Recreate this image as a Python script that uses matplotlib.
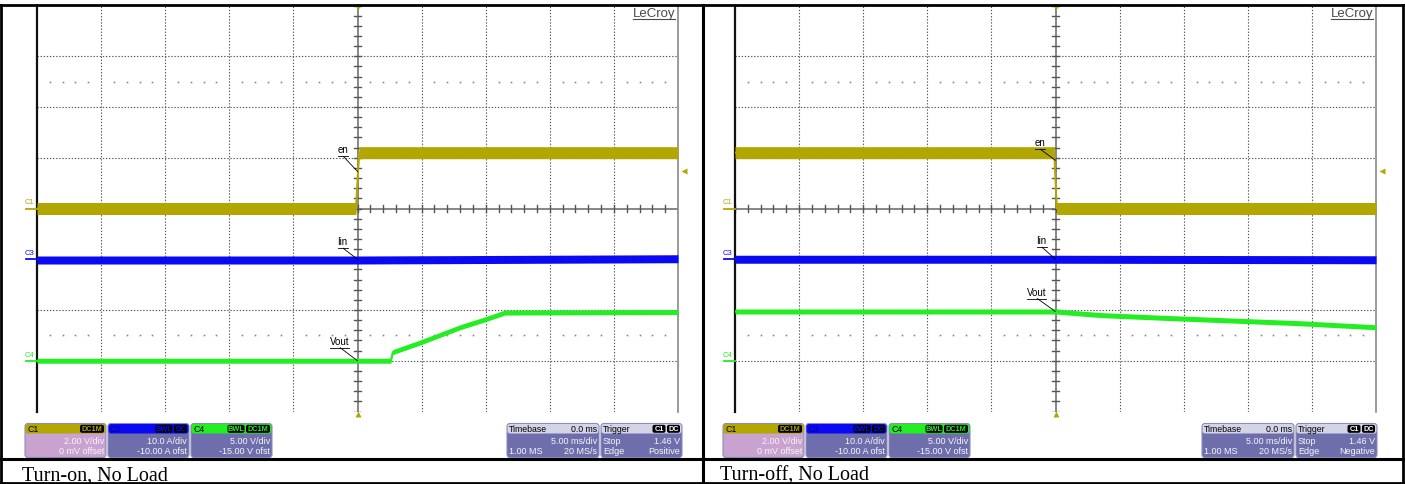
import matplotlib
matplotlib.use("Agg")
import matplotlib.pyplot as plt
from matplotlib.patches import FancyBboxPatch, Rectangle

# ---------------- data ----------------
captions = ["Turn-on, No Load", "Turn-off, No Load"]
trigger_slope = ["Positive", "Negative"]
ch_names = ["C1", "C3", "C4"]
ch_labels = ["en", "Iin", "Vout"]
ch_per_div = [2.0, 10.0, 5.0]
ch_offset = [0.0, -10.0, -15.0]
ch_scale_txt = ["2.00 V/div", "10.0 A/div", "5.00 V/div"]
ch_offset_txt = ["0 mV offset", "-10.00 A ofst", "-15.00 V ofst"]
ch_badges = [["DC1M"], ["BWL", "DC"], ["BWL", "DC1M"]]
timebase_txt = ["Timebase", "0.0 ms", "5.00 ms/div", "1.00 MS", "20 MS/s"]
trigger_txt = ["Trigger", "Stop", "1.46 V", "Edge"]
trigger_badges = ["C1", "DC"]
trigger_level = 1.46      # V on C1
ms_per_div = 5.0

# turn-on traces (time in ms, values in channel units)
on_en_t = [-25, -0.12, 0.12, 25]
on_en_v = [0.0, 0.0, 2.2, 2.2]
on_iin_t = [-25, 0, 25]
on_iin_v = [-0.15, -0.15, 0.1]
on_vout_t = [-25, 2.6, 2.75, 5.0, 8.0, 10.0, 11.5, 25]
on_vout_v = [0.0, 0.0, 0.85, 1.85, 3.3, 4.1, 4.75, 4.8]
# turn-off traces
off_en_t = [-25, -0.1, 0.1, 25]
off_en_v = [2.2, 2.2, 0.0, 0.0]
off_iin_t = [-25, 0, 25]
off_iin_v = [0.0, 0.0, -0.1]
off_vout_t = [-25, 0, 3.5, 9, 15, 19, 25]
off_vout_v = [4.85, 4.85, 4.5, 4.2, 3.9, 3.7, 3.3]

# leader-line targets of the trace labels (value at t = 0)
label_targets = [[1.46, 0.0, 0.0], [1.9, 0.0, 4.85]]

# ---------------- style ----------------
W, H = 1405, 484
ch_colors = ["#B2A600", "#0A0AF2", "#22EE22"]
band_px = [12.0, 8.0, 5.0]
label_off = [[(-20, -16), (-20, -12), (-28, -14)],
             [(-21, -12), (-19, -13), (-29, -14)]]
SANS = ["Liberation Sans", "DejaVu Sans"]
SERIF = ["Liberation Serif", "DejaVu Serif"]

fig = plt.figure(figsize=(W / 100, H / 100), dpi=100)
bg = fig.add_axes([0, 0, 1, 1])
bg.set_xlim(0, W)
bg.set_ylim(H, 0)
bg.axis("off")
bg.set_zorder(5)
bg.patch.set_visible(False)


def px_rect(x0, y0, x1, y1):
    return [x0 / W, 1 - y1 / H, (x1 - x0) / W, (y1 - y0) / H]


def to_bg(ax, x, y):
    d = ax.transData.transform((x, y))
    return bg.transData.inverted().transform(d)


def rbox(x, y, w, h, fc, ec="none", r=3, lw=0.8, z=2):
    bg.add_patch(FancyBboxPatch((x, y), w, h,
                                boxstyle=f"round,pad=0,rounding_size={r}",
                                fc=fc, ec=ec, lw=lw, zorder=z))


def badge(xr, y, txt, color, w):
    rbox(xr - w, y, w, 8, "black", r=2, z=4)
    bg.text(xr - w / 2, y + 4.3, txt, color=color, fontsize=5.3,
            family=SANS, ha="center", va="center", fontweight="bold", zorder=5)
    return xr - w - 1.5


badge_w = {"DC1M": 24, "BWL": 17, "DC": 13, "C1": 13}

traces = [
    [(on_en_t, on_en_v), (on_iin_t, on_iin_v), (on_vout_t, on_vout_v)],
    [(off_en_t, off_en_v), (off_iin_t, off_iin_v), (off_vout_t, off_vout_v)],
]

renderer = fig.canvas.get_renderer()

for p in range(2):
    xo = 0 if p == 0 else 698
    sx0, sx1, sy0, sy1 = 37 + xo, 678 + xo, 5.5, 411.5
    ax = fig.add_axes(px_rect(sx0, sy0, sx1, sy1))
    ax.set_xlim(-5 * ms_per_div, 5 * ms_per_div)
    ax.set_ylim(-4, 4)
    ax.set_xticks([])
    ax.set_yticks([])
    for s in ["top", "bottom"]:
        ax.spines[s].set_visible(False)
    ax.spines["left"].set_color("#111111")
    ax.spines["left"].set_linewidth(1.6)
    ax.spines["right"].set_color("#8a8a8a")
    ax.spines["right"].set_linewidth(1.2)

    # grid
    for k in range(-4, 5):
        if k != 0:
            ax.axvline(k * ms_per_div, color="#555555", lw=0.8, ls=(0, (1.2, 1.6)), zorder=1)
    for k in range(-3, 4):
        if k != 0:
            ax.axhline(k, color="#555555", lw=0.8, ls=(0, (1.2, 1.6)), zorder=1)
    dots_x = [i * 0.2 * ms_per_div for i in range(-25, 26) if i % 5 != 0]
    for yy in (2.5, -2.5):
        ax.plot(dots_x, [yy] * len(dots_x), ls="none", marker="s", ms=1.2,
                mec="none", mfc="#888888", zorder=1)
    ax.axvline(0, color="#666666", lw=1.1, zorder=1)
    ax.axhline(0, color="#666666", lw=1.1, zorder=1)
    ticks = [i * 0.2 for i in range(-25, 26)]
    for t in ticks:
        ax.plot([t * ms_per_div] * 2, [-0.075, 0.075], color="#555555", lw=1.0, zorder=1)
    for t in [i * 0.2 for i in range(-20, 21)]:
        ax.plot([-0.3, 0.3], [t, t], color="#555555", lw=1.0, zorder=1)

    # channels on their own scales
    for c in range(3):
        cax = fig.add_axes(px_rect(sx0, sy0, sx1, sy1), sharex=ax)
        cax.set_ylim(-4 * ch_per_div[c] - ch_offset[c], 4 * ch_per_div[c] - ch_offset[c])
        cax.axis("off")
        cax.patch.set_visible(False)
        t, v = traces[p][c]
        hw = band_px[c] / 2 / 50.75 * ch_per_div[c]
        cax.fill_between(t, [a - hw for a in v], [a + hw for a in v],
                         color=ch_colors[c], lw=0, zorder=3)
        cax.plot(t, v, color=ch_colors[c], lw=1.4, zorder=3)

        # channel zero marker at left
        zx, zy = to_bg(cax, -25, 0.0)
        bg.plot([zx - 11, zx], [zy, zy], color=ch_colors[c], lw=1.3, zorder=4)
        bg.text(zx - 12, zy - 2, ch_names[c], color=ch_colors[c], fontsize=5.5,
                family=SANS, ha="left", va="bottom", zorder=4)

        # trace label with leader
        px_, py_ = to_bg(cax, 0, label_targets[p][c])
        dx, dy = label_off[p][c]
        tx, ty = px_ + dx, py_ + dy
        txt = bg.text(tx, ty, ch_labels[c], fontsize=7, family=SANS, color="black",
                      ha="left", va="bottom", zorder=6)
        bb = txt.get_window_extent(renderer)
        w = bb.width
        bg.plot([tx, tx + w], [ty + 1, ty + 1], color="black", lw=0.6, zorder=6)
        bg.plot([tx + w * 0.55, px_], [ty + 1, py_], color="black", lw=0.6, zorder=6)

        if c == 0:
            # trigger level marker
            mx, my = to_bg(cax, 25, trigger_level)
            bg.plot(mx + 6, my, marker="<", ms=5, color=ch_colors[0], mec="none", zorder=6)

    # trigger position markers
    tx0, _ = to_bg(ax, 0, 0)
    bg.plot(tx0, 7, marker="v", ms=5, color=ch_colors[0], mec="none", zorder=6)
    bg.plot(tx0, 414, marker="^", ms=5, color=ch_colors[0], mec="none", zorder=6)

    # LeCroy logo
    lt = bg.text(sx1 - 3, 16.5, "LeCroy", fontsize=9.5, family=SANS, color="#4a4a4a",
                 ha="right", va="baseline", zorder=6)
    lw_ = lt.get_window_extent(renderer).width
    bg.plot([sx1 - 3 - lw_, sx1 - 3], [18.5, 18.5], color="#4a4a4a", lw=0.8, zorder=6)

    # channel info boxes
    bxs = [25, 108, 191]
    for c in range(3):
        bx = bxs[c] + xo
        body = "#C9A2CF" if c == 0 else "#6E6EAC"
        rbox(bx, 423.5, 81, 34, body, ec="#8c8cbc", r=3)
        rbox(bx + 0.5, 424, 80, 9.5, ch_colors[c], r=2.5, z=3)
        bg.text(bx + 2, 429, ch_names[c], fontsize=6.3, family=SANS,
                color="#0000A0" if c == 1 else "black", ha="left", va="center", zorder=5)
        xr = bx + 79
        for b in reversed(ch_badges[c]):
            xr = badge(xr, 424.8, b, ch_colors[c], badge_w[b])
        bg.text(bx + 79, 441, ch_scale_txt[c], fontsize=6.5, family=SANS,
                color="#f6f6f6", ha="right", va="center", zorder=5)
        bg.text(bx + 79, 452, ch_offset_txt[c], fontsize=6.5, family=SANS,
                color="#f6f6f6", ha="right", va="center", zorder=5)

    # timebase box
    tb = 507 + (0 if p == 0 else 695)
    rbox(tb, 423.5, 92, 34, "#6E6EAC", ec="#8c8cbc", r=3)
    rbox(tb + 0.5, 424, 91, 9.5, "#D4D4E8", r=2.5, z=3)
    bg.text(tb + 2, 429, timebase_txt[0], fontsize=6.3, family=SANS, color="black",
            ha="left", va="center", zorder=5)
    bg.text(tb + 90, 429, timebase_txt[1], fontsize=6.3, family=SANS, color="black",
            ha="right", va="center", zorder=5)
    bg.text(tb + 90, 441, timebase_txt[2], fontsize=6.5, family=SANS, color="#f6f6f6",
            ha="right", va="center", zorder=5)
    bg.text(tb + 2, 452, timebase_txt[3], fontsize=6.5, family=SANS, color="#f6f6f6",
            ha="left", va="center", zorder=5)
    bg.text(tb + 90, 452, timebase_txt[4], fontsize=6.5, family=SANS, color="#f6f6f6",
            ha="right", va="center", zorder=5)

    # trigger box
    tr = tb + 94
    rbox(tr, 423.5, 81, 34, "#6E6EAC", ec="#8c8cbc", r=3)
    rbox(tr + 0.5, 424, 80, 9.5, "#D4D4E8", r=2.5, z=3)
    bg.text(tr + 2, 429, trigger_txt[0], fontsize=6.3, family=SANS, color="black",
            ha="left", va="center", zorder=5)
    xr = tr + 79
    for b in reversed(trigger_badges):
        xr = badge(xr, 424.8, b, "white", badge_w[b])
    bg.text(tr + 2, 441, trigger_txt[1], fontsize=6.5, family=SANS, color="#f6f6f6",
            ha="left", va="center", zorder=5)
    bg.text(tr + 79, 441, trigger_txt[2], fontsize=6.5, family=SANS, color="#f6f6f6",
            ha="right", va="center", zorder=5)
    bg.text(tr + 2, 452, trigger_txt[3], fontsize=6.5, family=SANS, color="#f6f6f6",
            ha="left", va="center", zorder=5)
    bg.text(tr + 79, 452, trigger_slope[p], fontsize=6.5, family=SANS, color="#f6f6f6",
            ha="right", va="center", zorder=5)

    # caption
    bg.text((22 if p == 0 else 720), 480.5, captions[p], fontsize=14.5, family=SERIF,
            color="black", ha="left", va="baseline", zorder=5)

# table lines
tl = dict(color="black", lw=2.0, zorder=7, solid_capstyle="projecting")
bg.plot([1, 1403], [5, 5], **tl)
bg.plot([1, 1403], [483, 483], **tl)
bg.plot([1, 1], [5, 483], **tl)
bg.plot([1403, 1403], [5, 483], **tl)
bg.plot([703, 703], [5, 483], color="black", lw=2.2, zorder=7)
bg.plot([1, 1403], [459, 459], color="black", lw=2.2, zorder=7)

fig.savefig("out.png", dpi=100)
